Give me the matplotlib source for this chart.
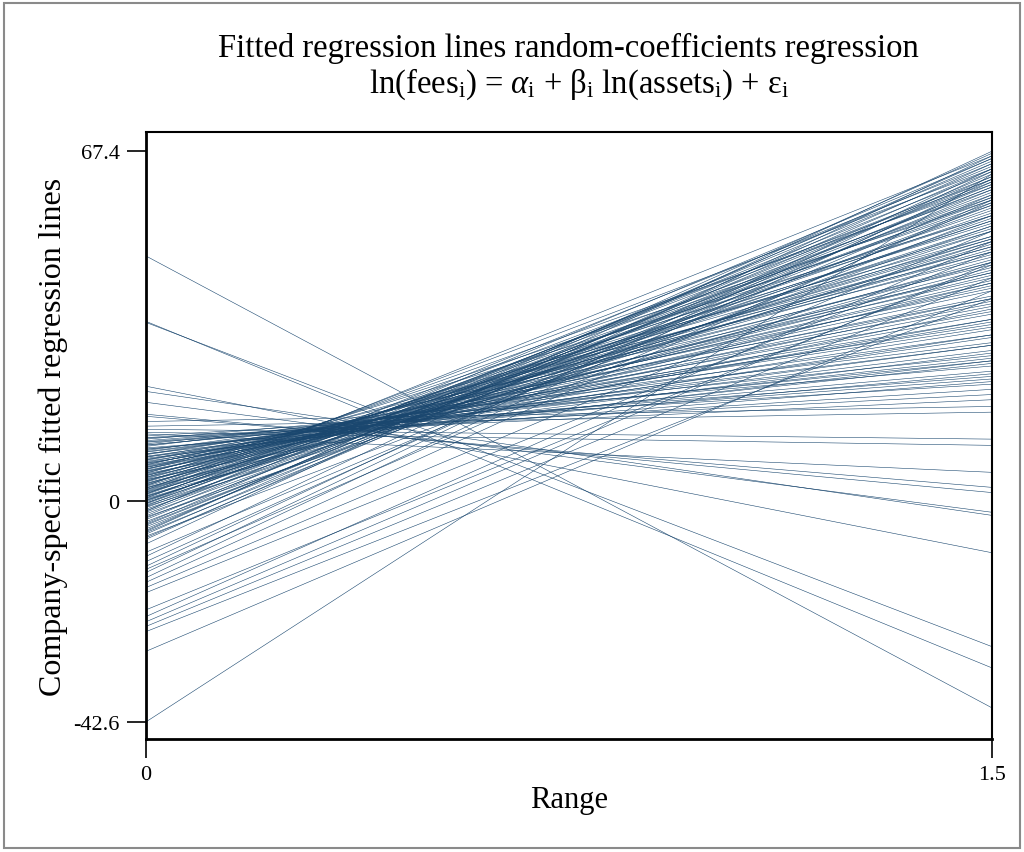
import matplotlib
matplotlib.use("Agg")
import matplotlib.pyplot as plt
from matplotlib.patches import Rectangle

plt.rcParams['font.family'] = ['Liberation Serif', 'DejaVu Serif']
plt.rcParams['mathtext.fontset'] = 'custom'
plt.rcParams['mathtext.rm'] = 'Liberation Serif'
plt.rcParams['mathtext.it'] = 'Liberation Serif:italic'

X_RANGE = [0, 1.5]
LINE_COLOR = '#1a476f'

# fitted value at x=0 and at x=1.5 for each company
start_main = [
    12.5, 12.2, 11.9, 11.6, 11.3, 11.0, 10.8, 10.5, 10.2, 9.9,
    9.7, 9.4, 9.1, 8.9, 8.6, 8.4, 8.2, 8.0, 7.8, 7.6,
    7.4, 7.2, 7.0, 6.8, 6.6, 6.4, 6.2, 6.0, 5.8, 5.6,
    5.4, 5.2, 5.0, 4.8, 4.6, 4.4, 4.2, 4.0, 3.8, 3.6,
    3.4, 3.2, 3.0, 2.8, 2.6,
    2.4, 2.2, 2.0, 1.8, 1.6, 1.4, 1.2, 1.0, 0.8, 0.6,
    0.4, 0.2, 0.0, -0.2, -0.4, -0.6, -0.8, -1.0, -1.3, -1.6,
    -1.9, -2.2,
    -2.5, -2.9, -3.3, -3.6, -4.0, -4.3, -4.7, -5.0, -5.4, -5.7,
    -6.1, -6.4, -6.8, -7.1, -7.4, -8.3,
    -9.9, -10.7, -11.7, -12.6, -13.2, -13.8, -14.8, -15.7,
    -16.7, -17.7, -21.0, -22.3, -23.3, -24.2, -25.2,
    12.1, 11.4, 10.7, 10.0, 9.5, 9.0, 8.5, 7.9, 7.3, 6.9,
    6.5, 6.1, 5.7, 5.3, 4.9, 4.5, 4.1, 3.7, 3.3, 2.9,
    2.5, 2.1, 1.7, 1.3, 0.9, 0.5, 0.1, -0.5, -1.1, -2.0,
    -3.1, -4.5, -5.9,
]
end_main = [
    22.5, 20.5, 26.0, 24.0, 21.5, 28.0, 25.0, 30.5, 23.0, 27.5,
    32.0, 29.0, 26.5, 33.5, 30.0, 35.0, 28.5, 31.5, 36.5, 33.0,
    38.0, 34.5, 41.0, 36.0, 39.5, 43.0, 37.5, 45.5, 40.5, 42.0,
    47.0, 38.5, 44.0, 49.0, 41.5, 46.0, 50.5, 43.5, 48.0, 52.0,
    45.0, 47.5, 53.5, 50.0, 44.5,
    55.0, 48.5, 52.5, 57.0, 46.5, 54.0, 58.5, 51.0, 56.0, 60.0,
    49.5, 53.0, 57.5, 61.5, 55.5, 59.0, 52.0, 62.5, 58.0, 54.5,
    63.5, 60.5,
    56.5, 64.5, 59.5, 62.0, 57.0, 65.5, 61.0, 58.5, 63.0, 66.0,
    60.0, 64.0, 55.0, 62.5, 65.0, 67.4,
    59.0, 66.5, 61.5, 64.0, 57.5, 63.5, 62.0, 58.0,
    52.0, 48.0, 45.5, 50.0, 46.0, 43.0, 39.0,
    19.5, 23.5, 27.0, 24.5, 30.0, 34.0, 27.0, 39.0, 32.0, 44.0,
    35.0, 48.0, 39.0, 51.0, 42.5, 55.0, 37.0, 58.0, 49.0, 61.0,
    42.0, 64.0, 50.5, 66.5, 46.0, 62.0, 54.0, 65.0, 50.0, 66.0,
    53.0, 60.5, 67.0,
]

# companies with flat or falling lines, and the two steep rising ones
start_other = [47.2, 34.6, 34.4, 22.1, 21.1, 19.0, 16.7, 16.3, 15.3, 14.4,
               13.8, 13.2, 12.9, -29.0, -42.6]
end_other = [-39.9, -32.2, -28.1, -10.0, -2.8, -2.2, 1.6, 2.6, 18.2, 17.1,
             11.9, 10.7, 5.5, 40.5, 63.0]

starts = start_main + start_other
ends = end_main + end_other

fig = plt.figure(figsize=(10.24, 8.53), dpi=100)
ax = fig.add_axes([146 / 1024, 1 - 740 / 853, 846 / 1024, 607 / 853])

for s, e in zip(starts, ends):
    ax.plot(X_RANGE, [s, e], color=LINE_COLOR, lw=0.4)

ax.set_xlim(0, 1.5)
ax.set_ylim(-45.9, 71.1)
ax.set_xticks([0, 1.5], ['0', '1.5'])
ax.set_yticks([67.4, 0, -42.6], ['67.4', '0', '-42.6'])
ax.tick_params(length=14, width=1.2, labelsize=16, pad=5)
for sp in ax.spines.values():
    sp.set_linewidth(1.5)
ax.spines['left'].set_linewidth(2)
ax.spines['bottom'].set_linewidth(2)

ax.set_xlabel('Range', fontsize=22)
ax.set_ylabel('Company-specific fitted regression lines', fontsize=23)
ax.xaxis.set_label_coords(0.5, (740 - 786) / 607)
ax.yaxis.set_label_coords((68 - 146) / 846, 0.5)

fig.text(0.555, 1 - 48 / 853, 'Fitted regression lines random-coefficients regression',
         ha='center', va='center', fontsize=23.5)
fig.text(0.565, 1 - 84 / 853,
         r'ln(fees$_\mathrm{i}$) = $\alpha_\mathrm{i}$ + $\mathrm{\beta}_\mathrm{i}$ ln(assets$_\mathrm{i}$) + $\mathrm{\varepsilon}_\mathrm{i}$',
         ha='center', va='center', fontsize=23.5)

fig.patches.append(Rectangle((4 / 1024, 4 / 853), 1016 / 1024, 845 / 853,
                             transform=fig.transFigure, fill=False,
                             edgecolor='#8a8a8a', lw=1.5))

fig.savefig('out.png', dpi=100)
